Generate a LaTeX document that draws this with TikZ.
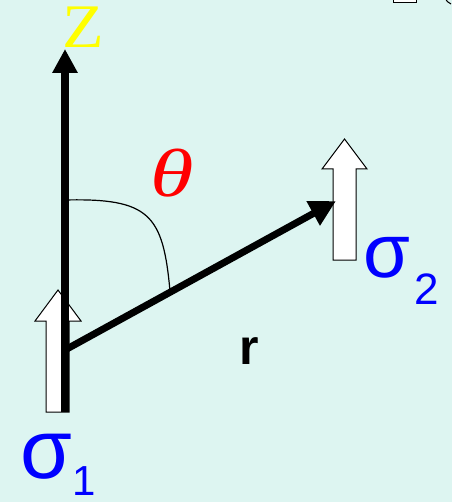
\documentclass[tikz,border=0pt]{standalone}
\usepackage{fontspec}
\setmainfont{Liberation Sans}
\newfontfamily\serifz{Liberation Serif}
\usetikzlibrary{arrows.meta}
\definecolor{bgc}{RGB}{221,245,241}
\definecolor{sigblue}{RGB}{0,0,255}
\definecolor{zyellow}{RGB}{255,255,0}
\tikzset{
  spin/.style={draw=black, line width=1pt, fill=white, line join=miter},
  axis/.style={line width=8pt, -{Triangle[length=24pt,width=24pt]}},
  vec/.style={line width=7pt, -{Triangle[length=26pt,width=26pt]}},
  anglearc/.style={line width=1.2pt},
  siglabel/.style={text=sigblue, inner sep=0pt}
}
\begin{document}
\begin{tikzpicture}[x=1pt,y=-1pt]
\fill[bgc] (0,0) rectangle (452,502);
\useasboundingbox (0,0) rectangle (452,502);
% top-right fragments
\draw[line width=1pt, fill=white] (393,-6) rectangle (416,3);
\draw[line width=1pt] (445,-2) to[bend right=20] (451,4);
% spin arrows
\draw[spin] (46,412) -- (46,321) -- (35,321) -- (58,290) -- (81,321) -- (69,321) -- (69,412) -- cycle;
\draw[spin] (333,260) -- (333,169) -- (322,169) -- (344.5,139) -- (367,169) -- (356,169) -- (356,260) -- cycle;
% nodes
\coordinate (O) at (65,350);
\coordinate (zb) at (65,412);
\coordinate (zt) at (65,49);
\coordinate (rt) at (336,201);
\coordinate (a1) at (65,200);
\coordinate (a2) at (170,291);
% axis and vector
\draw[axis] (zb) -- (zt);
\draw[vec] (O) -- (rt);
\draw[anglearc] (a1) .. controls (150,198) and (163,215) .. (a2);
% labels
\node[text=zyellow, inner sep=0pt, xscale=1.1, font=\serifz\fontsize{62}{62}\selectfont] (zl) at (83,27) {Z};
\node[text=red, inner sep=0pt, xscale=1.3, font=\serifz\itshape\fontsize{68}{68}\selectfont] (th) at (172,173) {θ};
\node[inner sep=0pt, font=\bfseries\fontsize{50}{50}\selectfont] (rl) at (249,351) {r};
\node[siglabel, font=\fontsize{84}{84}\selectfont] (s1) at (46,457) {σ};
\node[siglabel, font=\fontsize{42}{42}\selectfont] (s1i) at (84,481) {1};
\node[siglabel, font=\fontsize{76}{76}\selectfont] (s2) at (387,258) {σ};
\node[siglabel, font=\fontsize{44}{44}\selectfont] (s2i) at (427,289) {2};
\end{tikzpicture}
\end{document}
